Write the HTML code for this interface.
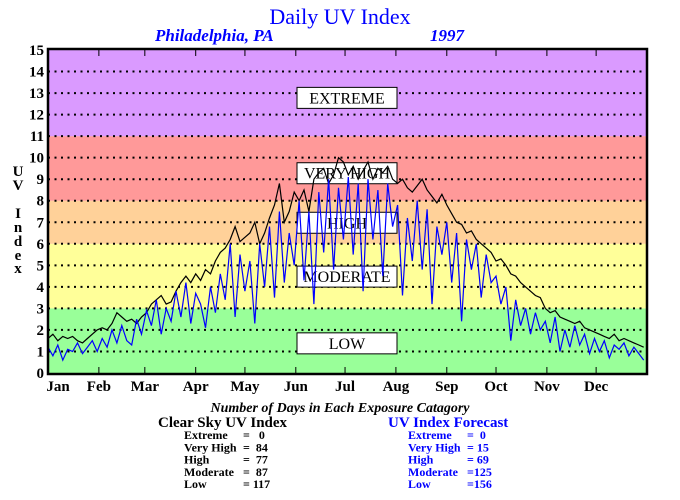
<!DOCTYPE html>
<html><head><meta charset="utf-8"><style>
body{margin:0;background:#fff;}
svg{display:block;font-family:"Liberation Serif",serif;}
#stats text{white-space:pre;}
</style></head><body>
<svg id="chart" width="680" height="500">
<text x="340" y="24" text-anchor="middle" font-size="22" fill="#0000ff">Daily UV Index</text>
<text x="155" y="41" font-size="17" font-style="italic" font-weight="bold" fill="#0000ff">Philadelphia, PA</text>
<text x="430" y="41" font-size="17" font-style="italic" font-weight="bold" fill="#0000ff">1997</text>
<g id="bands"></g>
<g id="grid"></g>
<g id="cats"></g>
<g id="series"></g>
<rect x="48" y="49" width="599" height="325" fill="none" stroke="#000" stroke-width="2.5"/>
<g id="yaxis"></g>
<g id="xaxis"></g>
<g font-size="15" font-weight="bold" text-anchor="middle">
<text x="18" y="176">U</text><text x="18" y="190">V</text>
<text x="18" y="218">I</text><text x="18" y="232">n</text><text x="18" y="246">d</text><text x="18" y="260">e</text><text x="18" y="273">x</text>
</g>
<text x="340" y="412" text-anchor="middle" font-size="14" font-style="italic" font-weight="bold">Number of Days in Each Exposure Catagory</text>
<text x="158" y="427" font-size="15" font-weight="bold">Clear Sky UV Index</text>
<text x="388" y="427" font-size="15" font-weight="bold" fill="#0000ff">UV Index Forecast</text>
<g id="stats" font-size="12" font-weight="bold"></g>
</svg>
<script>
const months = ["Jan","Feb","Mar","Apr","May","Jun","Jul","Aug","Sep","Oct","Nov","Dec"];
const monthStartDays = [0,31,59,90,120,151,181,212,243,273,304,334];
const yTicks = [0,1,2,3,4,5,6,7,8,9,10,11,12,13,14,15];
const bandNames = ["LOW","MODERATE","HIGH","VERY HIGH","EXTREME"];
const bandLows = [0,3,6,8,11];
const bandHighs = [3,6,8,11,15];
const bandColors = ["#99ff99","#ffff99","#ffd199","#ff9999","#da9aff"];
const labelValues = [1.4,4.5,7,9.3,12.8];
const dayStep = 3;
const clearSky = [1.6,1.8,1.5,1.7,1.6,1.7,1.5,1.4,1.6,1.8,2.0,
2.1,2.0,2.3,2.8,2.6,2.4,2.5,2.3,2.6,2.8,
3.2,3.4,3.6,3.2,3.3,3.8,4.2,4.5,4.2,4.6,
4.3,4.8,4.6,5.2,5.6,5.8,6.2,6.8,6.1,6.3,
6.5,7.0,6.0,6.5,7.2,7.8,8.8,7.0,7.5,8.4,
8.0,8.5,7.5,9.0,9.3,9.5,8.8,9.2,10.0,9.8,
9.2,9.6,9.0,9.4,9.8,9.0,9.5,9.3,9.6,9.0,
8.8,9.0,8.6,8.4,8.7,9.0,8.5,8.2,7.9,8.3,
7.8,7.4,7.0,6.9,6.5,6.6,6.2,6.0,5.8,5.6,
5.2,5.3,5.0,4.6,4.5,4.2,4.0,3.8,3.6,3.5,
3.0,2.8,2.9,2.6,2.5,2.4,2.3,2.4,2.1,2.0,
1.9,1.8,1.7,1.6,1.8,1.5,1.6,1.5,1.4,1.3,1.2];
const forecast = [1.2,0.8,1.3,0.6,1.1,1.0,1.4,0.9,1.2,1.5,1.0,
1.6,1.2,2.0,1.4,2.2,1.5,1.3,2.5,1.8,2.9,
2.2,3.4,1.8,3.0,2.4,3.8,2.6,4.2,2.3,3.7,
3.2,2.1,4.0,2.8,4.6,3.4,6.0,2.6,5.5,3.8,
5.2,2.3,6.0,4.0,6.8,3.5,7.5,4.2,6.5,5.0,
8.0,4.3,7.5,3.2,8.4,5.6,9.0,4.8,8.6,6.2,
9.1,5.5,8.8,3.8,9.0,6.2,8.5,4.5,8.8,6.8,
7.8,3.6,7.2,5.2,8.0,4.8,7.6,3.2,6.8,5.5,
7.0,4.2,6.5,2.4,6.2,4.8,6.0,3.5,5.5,4.2,
4.5,3.2,4.0,1.5,3.4,2.2,3.0,1.8,2.8,2.0,
2.4,1.4,2.6,1.0,2.0,1.2,2.2,1.3,1.8,0.9,
1.6,1.0,1.5,0.7,1.3,1.1,1.4,0.8,1.2,0.9,0.6];
const statLabels = ["Extreme","Very High","High","Moderate","Low"];
const clearCounts = ["  0"," 84"," 77"," 87","117"];
const forecastCounts = ["  0"," 15"," 69","125","156"];

const NS="http://www.w3.org/2000/svg";
const X0=48,X1=647,Y0=373,Y1=50;
const x=d=>X0+d*(X1-X0)/365;
const y=v=>Y0-v*(Y0-Y1)/15;
function mk(tag,attrs,parent,txt){const e=document.createElementNS(NS,tag);for(const k in attrs)e.setAttribute(k,attrs[k]);if(txt!==undefined)e.textContent=txt;parent.appendChild(e);return e;}
const G=id=>document.getElementById(id);

bandLows.forEach((lo,i)=>{
  const r=mk("rect",{x:X0,y:y(bandHighs[i]),width:X1-X0,height:y(lo)-y(bandHighs[i]),fill:bandColors[i]},G("bands"));
  
  
});
yTicks.forEach(t=>{
  if(t>0&&t<15){
    const l=mk("line",{x1:X0,x2:X1,y1:y(t),y2:y(t),stroke:"#000","stroke-width":2,"stroke-dasharray":"2,4.5"},G("grid"));
    
    
  }
  const tx=mk("text",{x:44,y:y(t)+5,"text-anchor":"end","font-size":15,"font-weight":"bold"},G("yaxis"),t);
  
  
});
bandNames.forEach((n,i)=>{
  const cy=y(labelValues[i]);
  const r=mk("rect",{x:297,y:cy-10,width:100,height:21,fill:"#fff",stroke:"#000","stroke-width":1},G("cats"));
  
  
  const t=mk("text",{x:347,y:cy+6,"text-anchor":"middle","font-size":16},G("cats"),n);
  
  
});
function line(vals,color,name){
  const p=vals.map((v,i)=>x(i*dayStep).toFixed(1)+","+y(v).toFixed(1)).join(" ");
  const pl=mk("polyline",{points:p,fill:"none",stroke:color,"stroke-width":1.2},G("series"));
  
  
}
line(clearSky,"#000","clear-sky-line");
line(forecast,"#0000ff","forecast-line");
months.forEach((m,i)=>{
  const xm=x(monthStartDays[i]);
  mk("line",{x1:xm,x2:xm,y1:Y1-1,y2:Y1+6,stroke:"#000","stroke-width":1},G("xaxis"));
  mk("line",{x1:xm,x2:xm,y1:Y0-6,y2:Y0+1,stroke:"#000","stroke-width":1},G("xaxis"));
  const t=mk("text",{x:i===0?xm+10:xm,y:391,"text-anchor":"middle","font-size":15,"font-weight":"bold"},G("xaxis"),m);
  
  
});
statLabels.forEach((s,i)=>{
  const yy=439+i*12.3;
  const a=mk("text",{x:184,y:yy},G("stats"),s);
  
  
  const b=mk("text",{x:243,y:yy},G("stats"),"= "+clearCounts[i]);
  
  
  const c=mk("text",{x:408,y:yy,fill:"#0000ff"},G("stats"),statLabels[i]);
  
  
  const d=mk("text",{x:467,y:yy,fill:"#0000ff"},G("stats"),"="+forecastCounts[i]);
  
  
});
</script>
</body></html>
